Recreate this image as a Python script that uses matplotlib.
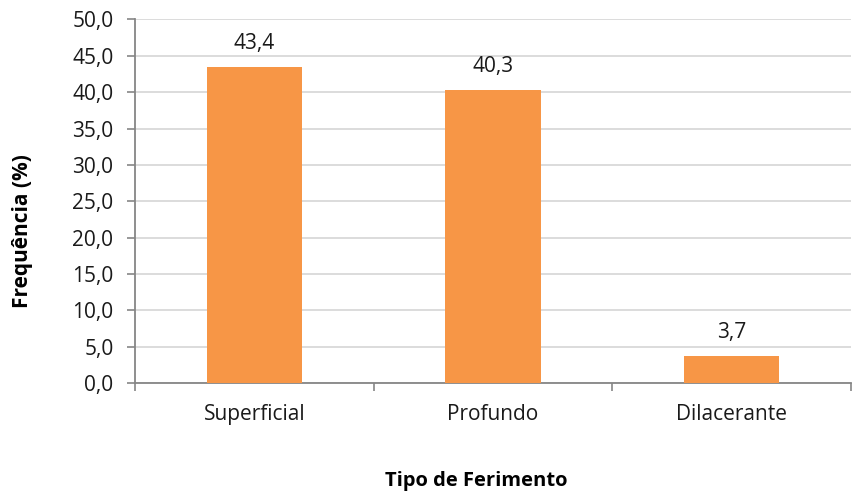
import matplotlib.pyplot as plt
from matplotlib.ticker import FixedLocator

plt.rcParams['font.family'] = ['Open Sans', 'DejaVu Sans']

categories = ['Superficial', 'Profundo', 'Dilacerante']
frequencies = [43.4, 40.3, 3.7]
y_ticks = [0, 5, 10, 15, 20, 25, 30, 35, 40, 45, 50]

def fmt(v):
    return f'{v:.1f}'.replace('.', ',')

fig = plt.figure(figsize=(8.57, 4.92), dpi=100)
ax = fig.add_axes([0.1575, 0.2215, 0.8355, 0.739])

x = list(range(len(categories)))
bars = ax.bar(x, frequencies, width=0.4, color='#F79646', zorder=3)

# value labels above each bar
for rect, val in zip(bars, frequencies):
    ax.annotate(fmt(val), (rect.get_x() + rect.get_width() / 2, val),
                xytext=(0, 13), textcoords='offset points',
                ha='center', va='baseline', fontsize=15, color='#1a1a1a')

ax.set_xlim(-0.5, len(categories) - 0.5)
ax.set_ylim(0, 50)
ax.set_yticks(y_ticks)
ax.set_yticklabels([fmt(v) for v in y_ticks])
ax.set_xticks(x)
ax.set_xticklabels(categories)
ax.xaxis.set_minor_locator(FixedLocator([-0.5, 0.5, 1.5, 2.5]))

ax.tick_params(axis='y', labelsize=15, length=5.5, width=1.2, color='#868686',
               labelcolor='#1a1a1a', pad=10)
ax.tick_params(axis='x', which='major', length=0, labelsize=15, labelcolor='#1a1a1a', pad=15)
ax.tick_params(axis='x', which='minor', length=5.5, width=1.2, color='#868686')

ax.grid(axis='y', color='#D9D9D9', linewidth=1.3, zorder=0)
for side in ('top', 'right'):
    ax.spines[side].set_visible(False)
for side in ('left', 'bottom'):
    ax.spines[side].set_color('#868686')
    ax.spines[side].set_linewidth(1.3)

fig.text(476 / 857, 1 - 481 / 492, 'Tipo de Ferimento', ha='center', va='center',
         fontsize=14.5, fontweight='bold', color='#000000')
fig.text(23 / 857, 1 - 231 / 492, 'Frequência (%)', rotation=90, ha='center',
         va='center', fontsize=15, fontweight='bold', color='#000000')

fig.savefig('out.png', dpi=100)
